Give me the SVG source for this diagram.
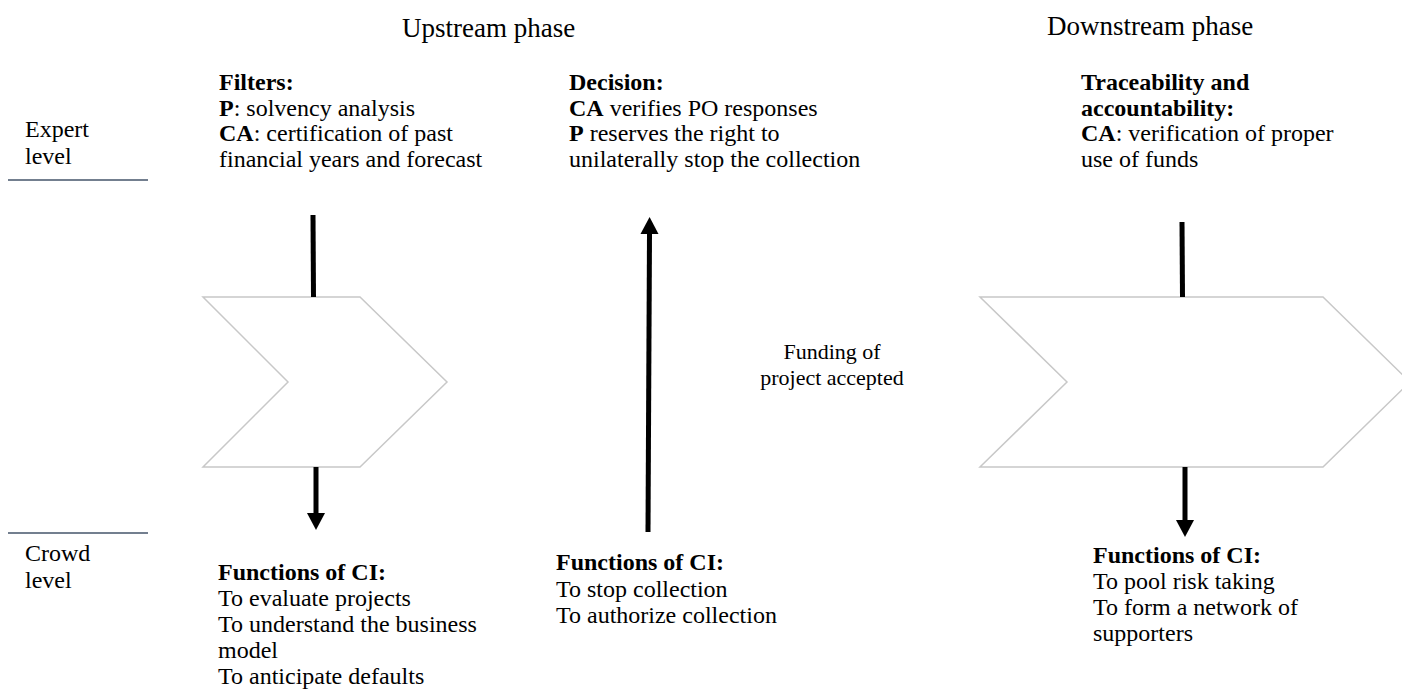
<svg xmlns="http://www.w3.org/2000/svg" width="1402" height="695" viewBox="0 0 1402 695">
<defs>
<marker id="ah" markerUnits="userSpaceOnUse" markerWidth="18" markerHeight="18" refX="0" refY="9" orient="auto" overflow="visible">
<path d="M0,0 L17,9 L0,18 z" fill="#000"/>
</marker>
<style>
text{font-family:"Liberation Serif","Times New Roman",serif;fill:#000;font-size:24px}
.h{font-size:27px}
.b{font-weight:bold}
.chev{fill:#fff;stroke:#c8c8c8;stroke-width:1.5}
.sep{stroke:#44546a;stroke-width:1.5}
.arr{stroke:#000;stroke-width:5;fill:none}
</style>
</defs>
<rect width="1402" height="695" fill="#fff"/>

<g id="headers">
<text class="h" x="402" y="37">Upstream phase</text>
<text class="h" x="1047" y="35">Downstream phase</text>
</g>

<g id="levels">
<text x="25" y="137">Expert</text>
<text x="25" y="164">level</text>
<line class="sep" x1="8" y1="180" x2="148" y2="180"/>
<line class="sep" x1="8" y1="533" x2="148" y2="533"/>
<text x="25" y="561">Crowd</text>
<text x="25" y="588">level</text>
</g>

<g id="chevron-upstream">
<polygon class="chev" points="203,297 360,297 447,382 360,467 203,467 288,382"/>
</g>
<g id="chevron-downstream">
<polygon class="chev" points="980,297 1323,297 1410,382 1323,467 980,467 1067,382"/>
</g>

<g id="filters">
<text x="219" y="90"><tspan class="b">Filters:</tspan></text>
<text x="219" y="115.5"><tspan class="b">P</tspan>: solvency analysis</text>
<text x="219" y="141"><tspan class="b">CA</tspan>: certification of past</text>
<text x="219" y="166.5">financial years and forecast</text>
</g>

<g id="decision">
<text x="569" y="90"><tspan class="b">Decision:</tspan></text>
<text x="569" y="115.5"><tspan class="b">CA</tspan> verifies PO responses</text>
<text x="569" y="141"><tspan class="b">P</tspan> reserves the right to</text>
<text x="569" y="166.5">unilaterally stop the collection</text>
</g>

<g id="traceability">
<text x="1081" y="90"><tspan class="b">Traceability and</tspan></text>
<text x="1081" y="115.5"><tspan class="b">accountability:</tspan></text>
<text x="1081" y="141"><tspan class="b">CA</tspan>: verification of proper</text>
<text x="1081" y="166.5">use of funds</text>
</g>

<g id="funding">
<text x="832" y="359" text-anchor="middle" style="font-size:22px">Funding of</text>
<text x="832" y="385" text-anchor="middle" style="font-size:22px">project accepted</text>
</g>

<g id="ci-upstream">
<text x="218" y="580"><tspan class="b">Functions of CI:</tspan></text>
<text x="218" y="606">To evaluate projects</text>
<text x="218" y="632">To understand the business</text>
<text x="218" y="658">model</text>
<text x="218" y="684">To anticipate defaults</text>
</g>

<g id="ci-decision">
<text x="556" y="570"><tspan class="b">Functions of CI:</tspan></text>
<text x="556" y="597">To stop collection</text>
<text x="556" y="623">To authorize collection</text>
</g>

<g id="ci-downstream">
<text x="1093" y="563"><tspan class="b">Functions of CI:</tspan></text>
<text x="1093" y="589">To pool risk taking</text>
<text x="1093" y="615">To form a network of</text>
<text x="1093" y="641">supporters</text>
</g>

<g id="connectors">
<line class="arr" x1="313" y1="215" x2="313.5" y2="297"/>
<path class="arr" d="M316,467 L316,513" marker-end="url(#ah)"/>
<path class="arr" d="M648,532 L649.5,234" marker-end="url(#ah)"/>
<line class="arr" x1="1182" y1="222" x2="1182.5" y2="297"/>
<path class="arr" d="M1185,467 L1185,520" marker-end="url(#ah)"/>
</g>
</svg>
